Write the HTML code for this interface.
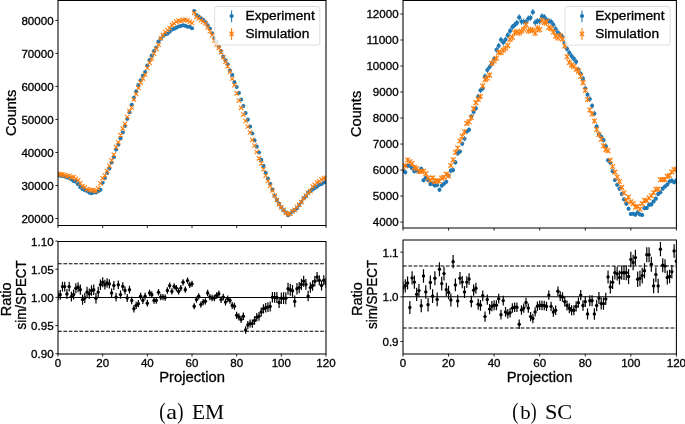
<!DOCTYPE html>
<html><head><meta charset="utf-8"><style>
html,body{margin:0;padding:0;background:#fff;}
body{width:685px;height:424px;overflow:hidden;font-family:"Liberation Sans",sans-serif;}
svg{display:block;will-change:transform;}
</style></head><body>
<svg width="685" height="424" viewBox="0 0 685 424">
<rect width="685" height="424" fill="#fff"/>
<defs>
<clipPath id="cuL"><rect x="58" y="0.5" width="268" height="225"/></clipPath>
<clipPath id="clL"><rect x="58" y="241.4" width="268" height="112.6"/></clipPath>
<clipPath id="cuR"><rect x="403" y="0.5" width="273.4" height="227.5"/></clipPath>
<clipPath id="clR"><rect x="403" y="240" width="273.4" height="114"/></clipPath>
</defs>
<g clip-path="url(#cuL)">
<g fill="#1f77b4">
<circle cx="58" cy="175.1" r="2.05"/>
<circle cx="60.23" cy="175.6" r="2.05"/>
<circle cx="62.47" cy="175.9" r="2.05"/>
<circle cx="64.7" cy="176.39" r="2.05"/>
<circle cx="66.93" cy="177.34" r="2.05"/>
<circle cx="69.17" cy="178.05" r="2.05"/>
<circle cx="71.4" cy="179.52" r="2.05"/>
<circle cx="73.63" cy="181.07" r="2.05"/>
<circle cx="75.87" cy="181.63" r="2.05"/>
<circle cx="78.1" cy="184.28" r="2.05"/>
<circle cx="80.33" cy="187.17" r="2.05"/>
<circle cx="82.57" cy="188.92" r="2.05"/>
<circle cx="84.8" cy="190.24" r="2.05"/>
<circle cx="87.03" cy="190.97" r="2.05"/>
<circle cx="89.27" cy="192.59" r="2.05"/>
<circle cx="91.5" cy="193.24" r="2.05"/>
<circle cx="93.73" cy="192.33" r="2.05"/>
<circle cx="95.97" cy="192.44" r="2.05"/>
<circle cx="98.2" cy="191.23" r="2.05"/>
<circle cx="100.43" cy="189.85" r="2.05"/>
<circle cx="102.67" cy="182.76" r="2.05"/>
<circle cx="104.9" cy="177.92" r="2.05"/>
<circle cx="107.13" cy="173.06" r="2.05"/>
<circle cx="109.37" cy="168.59" r="2.05"/>
<circle cx="111.6" cy="162.55" r="2.05"/>
<circle cx="113.83" cy="157.13" r="2.05"/>
<circle cx="116.07" cy="149.62" r="2.05"/>
<circle cx="118.3" cy="144.81" r="2.05"/>
<circle cx="120.53" cy="138.48" r="2.05"/>
<circle cx="122.77" cy="132.54" r="2.05"/>
<circle cx="125" cy="125.96" r="2.05"/>
<circle cx="127.23" cy="118.83" r="2.05"/>
<circle cx="129.47" cy="112.16" r="2.05"/>
<circle cx="131.7" cy="104.72" r="2.05"/>
<circle cx="133.93" cy="97.87" r="2.05"/>
<circle cx="136.17" cy="91.42" r="2.05"/>
<circle cx="138.4" cy="84.99" r="2.05"/>
<circle cx="140.63" cy="80.31" r="2.05"/>
<circle cx="142.87" cy="75.8" r="2.05"/>
<circle cx="145.1" cy="71.96" r="2.05"/>
<circle cx="147.33" cy="65.54" r="2.05"/>
<circle cx="149.57" cy="60.02" r="2.05"/>
<circle cx="151.8" cy="55.57" r="2.05"/>
<circle cx="154.03" cy="51.03" r="2.05"/>
<circle cx="156.27" cy="47.48" r="2.05"/>
<circle cx="158.5" cy="41.46" r="2.05"/>
<circle cx="160.73" cy="38.8" r="2.05"/>
<circle cx="162.97" cy="36.04" r="2.05"/>
<circle cx="165.2" cy="34.28" r="2.05"/>
<circle cx="167.43" cy="33.7" r="2.05"/>
<circle cx="169.67" cy="31.77" r="2.05"/>
<circle cx="171.9" cy="29.58" r="2.05"/>
<circle cx="174.13" cy="28.63" r="2.05"/>
<circle cx="176.37" cy="27.7" r="2.05"/>
<circle cx="178.6" cy="26.43" r="2.05"/>
<circle cx="180.83" cy="25.94" r="2.05"/>
<circle cx="183.07" cy="25.28" r="2.05"/>
<circle cx="185.3" cy="25.83" r="2.05"/>
<circle cx="187.53" cy="26.8" r="2.05"/>
<circle cx="189.77" cy="26.76" r="2.05"/>
<circle cx="192" cy="28.27" r="2.05"/>
<circle cx="194.23" cy="11.04" r="2.05"/>
<circle cx="196.47" cy="14.94" r="2.05"/>
<circle cx="198.7" cy="16.58" r="2.05"/>
<circle cx="200.93" cy="18.3" r="2.05"/>
<circle cx="203.17" cy="19.73" r="2.05"/>
<circle cx="205.4" cy="22.31" r="2.05"/>
<circle cx="207.63" cy="25.4" r="2.05"/>
<circle cx="209.87" cy="28.54" r="2.05"/>
<circle cx="212.1" cy="33.22" r="2.05"/>
<circle cx="214.33" cy="38.23" r="2.05"/>
<circle cx="216.57" cy="42.3" r="2.05"/>
<circle cx="218.8" cy="46.84" r="2.05"/>
<circle cx="221.03" cy="50.97" r="2.05"/>
<circle cx="223.27" cy="56.44" r="2.05"/>
<circle cx="225.5" cy="60.24" r="2.05"/>
<circle cx="227.73" cy="64.29" r="2.05"/>
<circle cx="229.97" cy="70.67" r="2.05"/>
<circle cx="232.2" cy="74.91" r="2.05"/>
<circle cx="234.43" cy="81.93" r="2.05"/>
<circle cx="236.67" cy="86.95" r="2.05"/>
<circle cx="238.9" cy="92.89" r="2.05"/>
<circle cx="241.13" cy="99.52" r="2.05"/>
<circle cx="243.37" cy="105.96" r="2.05"/>
<circle cx="245.6" cy="112.93" r="2.05"/>
<circle cx="247.83" cy="119.61" r="2.05"/>
<circle cx="250.07" cy="126.6" r="2.05"/>
<circle cx="252.3" cy="133.54" r="2.05"/>
<circle cx="254.53" cy="140.41" r="2.05"/>
<circle cx="256.77" cy="146.63" r="2.05"/>
<circle cx="259" cy="152.49" r="2.05"/>
<circle cx="261.23" cy="159.83" r="2.05"/>
<circle cx="263.47" cy="165.88" r="2.05"/>
<circle cx="265.7" cy="172.77" r="2.05"/>
<circle cx="267.93" cy="178.5" r="2.05"/>
<circle cx="270.17" cy="183.9" r="2.05"/>
<circle cx="272.4" cy="189.55" r="2.05"/>
<circle cx="274.63" cy="195.62" r="2.05"/>
<circle cx="276.87" cy="200.11" r="2.05"/>
<circle cx="279.1" cy="203.69" r="2.05"/>
<circle cx="281.33" cy="207.39" r="2.05"/>
<circle cx="283.57" cy="210.19" r="2.05"/>
<circle cx="285.8" cy="212.56" r="2.05"/>
<circle cx="288.03" cy="215.09" r="2.05"/>
<circle cx="290.27" cy="213.71" r="2.05"/>
<circle cx="292.5" cy="211.48" r="2.05"/>
<circle cx="294.73" cy="210.07" r="2.05"/>
<circle cx="296.97" cy="208.17" r="2.05"/>
<circle cx="299.2" cy="204.94" r="2.05"/>
<circle cx="301.43" cy="201.93" r="2.05"/>
<circle cx="303.67" cy="198.25" r="2.05"/>
<circle cx="305.9" cy="196.18" r="2.05"/>
<circle cx="308.13" cy="192.64" r="2.05"/>
<circle cx="310.37" cy="190.97" r="2.05"/>
<circle cx="312.6" cy="189.51" r="2.05"/>
<circle cx="314.83" cy="187.93" r="2.05"/>
<circle cx="317.07" cy="186.59" r="2.05"/>
<circle cx="319.3" cy="184.7" r="2.05"/>
<circle cx="321.53" cy="184.04" r="2.05"/>
<circle cx="323.77" cy="182.57" r="2.05"/>
<circle cx="326" cy="181.83" r="2.05"/>
</g>
<path d="M55.8 171.79L60.2 176.19M55.8 176.19L60.2 171.79M58.03 172.26L62.43 176.66M58.03 176.66L62.43 172.26M60.27 172.1L64.67 176.5M60.27 176.5L64.67 172.1M62.5 172.9L66.9 177.3M62.5 177.3L66.9 172.9M64.73 173.93L69.13 178.33M64.73 178.33L69.13 173.93M66.97 173.56L71.37 177.96M66.97 177.96L71.37 173.56M69.2 175.1L73.6 179.5M69.2 179.5L73.6 175.1M71.43 174.99L75.83 179.39M71.43 179.39L75.83 174.99M73.67 176.56L78.07 180.96M73.67 180.96L78.07 176.56M75.9 178.1L80.3 182.5M75.9 182.5L80.3 178.1M78.13 180.87L82.53 185.27M78.13 185.27L82.53 180.87M80.37 183.85L84.77 188.25M80.37 188.25L84.77 183.85M82.6 185.06L87 189.46M82.6 189.46L87 185.06M84.83 186.84L89.23 191.24M84.83 191.24L89.23 186.84M87.07 187.8L91.47 192.2M87.07 192.2L91.47 187.8M89.3 187.98L93.7 192.38M89.3 192.38L93.7 187.98M91.53 188.2L95.93 192.6M91.53 192.6L95.93 188.2M93.77 188.74L98.17 193.14M93.77 193.14L98.17 188.74M96 186.16L100.4 190.56M96 190.56L100.4 186.16M98.23 181.18L102.63 185.58M98.23 185.58L102.63 181.18M100.47 176.11L104.87 180.51M100.47 180.51L104.87 176.11M102.7 173.27L107.1 177.67M102.7 177.67L107.1 173.27M104.93 168.83L109.33 173.23M104.93 173.23L109.33 168.83M107.17 163.68L111.57 168.08M107.17 168.08L111.57 163.68M109.4 158.26L113.8 162.66M109.4 162.66L113.8 158.26M111.63 152.49L116.03 156.89M111.63 156.89L116.03 152.49M113.87 144.92L118.27 149.32M113.87 149.32L118.27 144.92M116.1 140.02L120.5 144.42M116.1 144.42L120.5 140.02M118.33 133.01L122.73 137.41M118.33 137.41L122.73 133.01M120.57 126.5L124.97 130.9M120.57 130.9L124.97 126.5M122.8 121.59L127.2 125.99M122.8 125.99L127.2 121.59M125.03 114.83L129.43 119.23M125.03 119.23L129.43 114.83M127.27 108.8L131.67 113.2M127.27 113.2L131.67 108.8M129.5 105.32L133.9 109.72M129.5 109.72L133.9 105.32M131.73 97.33L136.13 101.73M131.73 101.73L136.13 97.33M133.97 91.62L138.37 96.02M133.97 96.02L138.37 91.62M136.2 85.75L140.6 90.15M136.2 90.15L140.6 85.75M138.43 80.36L142.83 84.76M138.43 84.76L142.83 80.36M140.67 76.32L145.07 80.72M140.67 80.72L145.07 76.32M142.9 72.28L147.3 76.68M142.9 76.68L147.3 72.28M145.13 65.82L149.53 70.22M145.13 70.22L149.53 65.82M147.37 60.62L151.77 65.02M147.37 65.02L151.77 60.62M149.6 56.52L154 60.92M149.6 60.92L154 56.52M151.83 51.39L156.23 55.79M151.83 55.79L156.23 51.39M154.07 46.88L158.47 51.28M154.07 51.28L158.47 46.88M156.3 42.5L160.7 46.9M156.3 46.9L160.7 42.5M158.53 36.06L162.93 40.46M158.53 40.46L162.93 36.06M160.77 32.79L165.17 37.19M160.77 37.19L165.17 32.79M163 29.83L167.4 34.23M163 34.23L167.4 29.83M165.23 27.84L169.63 32.24M165.23 32.24L169.63 27.84M167.47 25.96L171.87 30.36M167.47 30.36L171.87 25.96M169.7 22.61L174.1 27.01M169.7 27.01L174.1 22.61M171.93 21.25L176.33 25.65M171.93 25.65L176.33 21.25M174.17 19.41L178.57 23.81M174.17 23.81L178.57 19.41M176.4 18.37L180.8 22.77M176.4 22.77L180.8 18.37M178.63 18.77L183.03 23.17M178.63 23.17L183.03 18.77M180.87 17.62L185.27 22.02M180.87 22.02L185.27 17.62M183.1 17.7L187.5 22.1M183.1 22.1L187.5 17.7M185.33 18.29L189.73 22.69M185.33 22.69L189.73 18.29M187.57 19.65L191.97 24.05M187.57 24.05L191.97 19.65M189.8 20.62L194.2 25.02M189.8 25.02L194.2 20.62M192.03 10.59L196.43 14.99M192.03 14.99L196.43 10.59M194.27 14.83L198.67 19.23M194.27 19.23L198.67 14.83M196.5 16.22L200.9 20.62M196.5 20.62L200.9 16.22M198.73 18.06L203.13 22.46M198.73 22.46L203.13 18.06M200.97 19.4L205.37 23.8M200.97 23.8L205.37 19.4M203.2 21.2L207.6 25.6M203.2 25.6L207.6 21.2M205.43 25.12L209.83 29.52M205.43 29.52L209.83 25.12M207.67 29.04L212.07 33.44M207.67 33.44L212.07 29.04M209.9 32.96L214.3 37.36M209.9 37.36L214.3 32.96M212.13 38.13L216.53 42.53M212.13 42.53L216.53 38.13M214.37 42.14L218.77 46.54M214.37 46.54L218.77 42.14M216.6 45.75L221 50.15M216.6 50.15L221 45.75M218.83 49.99L223.23 54.39M218.83 54.39L223.23 49.99M221.07 55.07L225.47 59.47M221.07 59.47L225.47 55.07M223.3 59.59L227.7 63.99M223.3 63.99L227.7 59.59M225.53 64.12L229.93 68.52M225.53 68.52L229.93 64.12M227.77 69.64L232.17 74.04M227.77 74.04L232.17 69.64M230 76.53L234.4 80.93M230 80.93L234.4 76.53M232.23 82.96L236.63 87.36M232.23 87.36L236.63 82.96M234.47 91.2L238.87 95.6M234.47 95.6L238.87 91.2M236.7 98.47L241.1 102.87M236.7 102.87L241.1 98.47M238.93 105.61L243.33 110.01M238.93 110.01L243.33 105.61M241.17 112.36L245.57 116.76M241.17 116.76L245.57 112.36M243.4 118.82L247.8 123.22M243.4 123.22L247.8 118.82M245.63 124.4L250.03 128.8M245.63 128.8L250.03 124.4M247.87 130.21L252.27 134.61M247.87 134.61L252.27 130.21M250.1 137.59L254.5 141.99M250.1 141.99L254.5 137.59M252.33 143.44L256.73 147.84M252.33 147.84L256.73 143.44M254.57 149.8L258.97 154.2M254.57 154.2L258.97 149.8M256.8 156.09L261.2 160.49M256.8 160.49L261.2 156.09M259.03 161.22L263.43 165.62M259.03 165.62L263.43 161.22M261.27 167.06L265.67 171.46M261.27 171.46L265.67 167.06M263.5 173.39L267.9 177.79M263.5 177.79L267.9 173.39M265.73 178.82L270.13 183.22M265.73 183.22L270.13 178.82M267.97 183.71L272.37 188.11M267.97 188.11L272.37 183.71M270.2 188.31L274.6 192.71M270.2 192.71L274.6 188.31M272.43 193.5L276.83 197.9M272.43 197.9L276.83 193.5M274.67 197.77L279.07 202.17M274.67 202.17L279.07 197.77M276.9 202.24L281.3 206.64M276.9 206.64L281.3 202.24M279.13 205.26L283.53 209.66M279.13 209.66L283.53 205.26M281.37 207.72L285.77 212.12M281.37 212.12L285.77 207.72M283.6 210.78L288 215.18M283.6 215.18L288 210.78M285.83 211.98L290.23 216.38M285.83 216.38L290.23 211.98M288.07 211.44L292.47 215.84M288.07 215.84L292.47 211.44M290.3 209.15L294.7 213.55M290.3 213.55L294.7 209.15M292.53 207.57L296.93 211.97M292.53 211.97L296.93 207.57M294.77 204.95L299.17 209.35M294.77 209.35L299.17 204.95M297 202.49L301.4 206.89M297 206.89L301.4 202.49M299.23 199.87L303.63 204.27M299.23 204.27L303.63 199.87M301.47 196.03L305.87 200.43M301.47 200.43L305.87 196.03M303.7 193.42L308.1 197.82M303.7 197.82L308.1 193.42M305.93 190.72L310.33 195.12M305.93 195.12L310.33 190.72M308.17 189.01L312.57 193.41M308.17 193.41L312.57 189.01M310.4 184.31L314.8 188.71M310.4 188.71L314.8 184.31M312.63 182.61L317.03 187.01M312.63 187.01L317.03 182.61M314.87 180.27L319.27 184.67M314.87 184.67L319.27 180.27M317.1 179.1L321.5 183.5M317.1 183.5L321.5 179.1M319.33 177.29L323.73 181.69M319.33 181.69L323.73 177.29M321.57 176.14L325.97 180.54M321.57 180.54L325.97 176.14M323.8 175.56L328.2 179.96M323.8 179.96L328.2 175.56" stroke="#ff7f0e" stroke-width="1.1" fill="none"/>
</g>
<g clip-path="url(#cuR)">
<path d="M403 168.64V173.06M405.28 170.02V174.42M407.56 163.53V168.02M409.83 163.53V168.02M412.11 166V170.46M414.39 168.98V173.4M416.67 168.05V172.48M418.95 169.3V173.71M421.23 166.58V171.03M423.5 178.06V182.35M425.78 175.71V180.03M428.06 177.8V182.09M430.34 181.97V186.2M432.62 181.47V185.71M434.9 183.47V187.67M437.18 182.94V187.16M439.45 187.75V191.9M441.73 183.56V187.76M444.01 181.69V185.92M446.29 179.6V183.87M448.57 173.65V178M450.85 168.42V172.85M453.12 167.91V172.34M455.4 160.11V164.65M457.68 151.23V155.89M459.96 149.12V153.81M462.24 141.42V146.21M464.51 136.31V141.16M466.79 128.99V133.94M469.07 127.32V132.29M471.35 113.99V119.13M473.63 109.46V114.65M475.91 105.66V110.89M478.19 93.83V99.21M480.46 87.56V93M482.74 85.69V91.16M485.02 73.46V79.07M487.3 67.23V72.91M489.58 64.09V69.81M491.86 60.78V66.53M494.13 56.12V61.92M496.41 46.8V52.7M498.69 42.87V48.81M500.97 36.76V42.76M503.25 39.59V45.56M505.52 36.55V42.56M507.8 32.11V38.16M510.08 27.83V33.93M512.36 23.99V30.12M514.64 21.86V28.02M516.92 19.82V26M519.19 14.28V20.51M521.47 18.51V24.7M523.75 18.61V24.8M526.03 18.82V25.01M528.31 15.45V21.68M530.59 14.66V20.89M532.87 9.01V15.29M535.14 19.36V25.54M537.42 17.93V24.13M539.7 18.39V24.58M541.98 13.29V19.53M544.26 13.88V20.12M546.53 16.84V23.04M548.81 18.08V24.27M551.09 18.69V24.88M553.37 21.68V27.84M555.65 25.89V32.01M557.93 29.44V35.52M560.2 31.92V37.97M562.48 34V40.03M564.76 39.76V45.73M567.04 45.92V51.83M569.32 49.92V55.79M571.6 53.15V58.98M573.88 55.91V61.71M576.15 58.96V64.73M578.43 66.98V72.66M580.71 70.91V76.54M582.99 75.85V81.43M585.27 85.69V91.16M587.54 91.97V97.37M589.82 96.28V101.63M592.1 103.19V108.46M594.38 110.92V116.09M596.66 124.05V129.06M598.94 131.8V136.72M601.22 134.31V139.19M603.49 137.74V142.58M605.77 143.87V148.62M608.05 157.94V162.51M610.33 160.49V165.03M612.61 168.94V173.36M614.88 177.8V182.09M617.16 182.67V186.89M619.44 186.66V190.81M621.72 192.08V196.16M624 197.19V201.19M626.28 201.79V205.72M628.55 206.75V210.6M630.83 212.05V215.81M633.11 211.83V215.59M635.39 212.77V216.52M637.67 210.52V214.3M639.95 212.51V216.26M642.22 213.14V216.88M644.5 206.21V210.06M646.78 205.95V209.81M649.06 202.88V206.79M651.34 202.47V206.38M653.62 199.49V203.45M655.89 196.64V200.65M658.17 192.04V196.12M660.45 190.21V194.32M662.73 186.57V190.73M665.01 184.34V188.54M667.29 182.45V186.67M669.56 179.44V183.7M671.84 178.47V182.75M674.12 180.15V184.4M676.4 178.15V182.43" stroke="#1f77b4" stroke-width="1" fill="none"/>
<g fill="#1f77b4">
<circle cx="403" cy="170.85" r="2.05"/>
<circle cx="405.28" cy="172.22" r="2.05"/>
<circle cx="407.56" cy="165.78" r="2.05"/>
<circle cx="409.83" cy="165.78" r="2.05"/>
<circle cx="412.11" cy="168.23" r="2.05"/>
<circle cx="414.39" cy="171.19" r="2.05"/>
<circle cx="416.67" cy="170.27" r="2.05"/>
<circle cx="418.95" cy="171.5" r="2.05"/>
<circle cx="421.23" cy="168.8" r="2.05"/>
<circle cx="423.5" cy="180.21" r="2.05"/>
<circle cx="425.78" cy="177.87" r="2.05"/>
<circle cx="428.06" cy="179.94" r="2.05"/>
<circle cx="430.34" cy="184.08" r="2.05"/>
<circle cx="432.62" cy="183.59" r="2.05"/>
<circle cx="434.9" cy="185.57" r="2.05"/>
<circle cx="437.18" cy="185.05" r="2.05"/>
<circle cx="439.45" cy="189.83" r="2.05"/>
<circle cx="441.73" cy="185.66" r="2.05"/>
<circle cx="444.01" cy="183.81" r="2.05"/>
<circle cx="446.29" cy="181.74" r="2.05"/>
<circle cx="448.57" cy="175.82" r="2.05"/>
<circle cx="450.85" cy="170.64" r="2.05"/>
<circle cx="453.12" cy="170.12" r="2.05"/>
<circle cx="455.4" cy="162.38" r="2.05"/>
<circle cx="457.68" cy="153.56" r="2.05"/>
<circle cx="459.96" cy="151.46" r="2.05"/>
<circle cx="462.24" cy="143.81" r="2.05"/>
<circle cx="464.51" cy="138.74" r="2.05"/>
<circle cx="466.79" cy="131.46" r="2.05"/>
<circle cx="469.07" cy="129.8" r="2.05"/>
<circle cx="471.35" cy="116.56" r="2.05"/>
<circle cx="473.63" cy="112.06" r="2.05"/>
<circle cx="475.91" cy="108.27" r="2.05"/>
<circle cx="478.19" cy="96.52" r="2.05"/>
<circle cx="480.46" cy="90.28" r="2.05"/>
<circle cx="482.74" cy="88.43" r="2.05"/>
<circle cx="485.02" cy="76.26" r="2.05"/>
<circle cx="487.3" cy="70.07" r="2.05"/>
<circle cx="489.58" cy="66.95" r="2.05"/>
<circle cx="491.86" cy="63.66" r="2.05"/>
<circle cx="494.13" cy="59.02" r="2.05"/>
<circle cx="496.41" cy="49.75" r="2.05"/>
<circle cx="498.69" cy="45.84" r="2.05"/>
<circle cx="500.97" cy="39.76" r="2.05"/>
<circle cx="503.25" cy="42.57" r="2.05"/>
<circle cx="505.52" cy="39.55" r="2.05"/>
<circle cx="507.8" cy="35.13" r="2.05"/>
<circle cx="510.08" cy="30.88" r="2.05"/>
<circle cx="512.36" cy="27.06" r="2.05"/>
<circle cx="514.64" cy="24.94" r="2.05"/>
<circle cx="516.92" cy="22.91" r="2.05"/>
<circle cx="519.19" cy="17.4" r="2.05"/>
<circle cx="521.47" cy="21.61" r="2.05"/>
<circle cx="523.75" cy="21.71" r="2.05"/>
<circle cx="526.03" cy="21.92" r="2.05"/>
<circle cx="528.31" cy="18.57" r="2.05"/>
<circle cx="530.59" cy="17.78" r="2.05"/>
<circle cx="532.87" cy="12.15" r="2.05"/>
<circle cx="535.14" cy="22.45" r="2.05"/>
<circle cx="537.42" cy="21.03" r="2.05"/>
<circle cx="539.7" cy="21.48" r="2.05"/>
<circle cx="541.98" cy="16.41" r="2.05"/>
<circle cx="544.26" cy="17" r="2.05"/>
<circle cx="546.53" cy="19.94" r="2.05"/>
<circle cx="548.81" cy="21.18" r="2.05"/>
<circle cx="551.09" cy="21.79" r="2.05"/>
<circle cx="553.37" cy="24.76" r="2.05"/>
<circle cx="555.65" cy="28.95" r="2.05"/>
<circle cx="557.93" cy="32.48" r="2.05"/>
<circle cx="560.2" cy="34.95" r="2.05"/>
<circle cx="562.48" cy="37.01" r="2.05"/>
<circle cx="564.76" cy="42.75" r="2.05"/>
<circle cx="567.04" cy="48.88" r="2.05"/>
<circle cx="569.32" cy="52.86" r="2.05"/>
<circle cx="571.6" cy="56.06" r="2.05"/>
<circle cx="573.88" cy="58.81" r="2.05"/>
<circle cx="576.15" cy="61.85" r="2.05"/>
<circle cx="578.43" cy="69.82" r="2.05"/>
<circle cx="580.71" cy="73.72" r="2.05"/>
<circle cx="582.99" cy="78.64" r="2.05"/>
<circle cx="585.27" cy="88.43" r="2.05"/>
<circle cx="587.54" cy="94.67" r="2.05"/>
<circle cx="589.82" cy="98.96" r="2.05"/>
<circle cx="592.1" cy="105.83" r="2.05"/>
<circle cx="594.38" cy="113.51" r="2.05"/>
<circle cx="596.66" cy="126.55" r="2.05"/>
<circle cx="598.94" cy="134.26" r="2.05"/>
<circle cx="601.22" cy="136.75" r="2.05"/>
<circle cx="603.49" cy="140.16" r="2.05"/>
<circle cx="605.77" cy="146.25" r="2.05"/>
<circle cx="608.05" cy="160.23" r="2.05"/>
<circle cx="610.33" cy="162.76" r="2.05"/>
<circle cx="612.61" cy="171.15" r="2.05"/>
<circle cx="614.88" cy="179.94" r="2.05"/>
<circle cx="617.16" cy="184.78" r="2.05"/>
<circle cx="619.44" cy="188.74" r="2.05"/>
<circle cx="621.72" cy="194.12" r="2.05"/>
<circle cx="624" cy="199.19" r="2.05"/>
<circle cx="626.28" cy="203.75" r="2.05"/>
<circle cx="628.55" cy="208.68" r="2.05"/>
<circle cx="630.83" cy="213.93" r="2.05"/>
<circle cx="633.11" cy="213.71" r="2.05"/>
<circle cx="635.39" cy="214.64" r="2.05"/>
<circle cx="637.67" cy="212.41" r="2.05"/>
<circle cx="639.95" cy="214.39" r="2.05"/>
<circle cx="642.22" cy="215.01" r="2.05"/>
<circle cx="644.5" cy="208.13" r="2.05"/>
<circle cx="646.78" cy="207.88" r="2.05"/>
<circle cx="649.06" cy="204.83" r="2.05"/>
<circle cx="651.34" cy="204.42" r="2.05"/>
<circle cx="653.62" cy="201.47" r="2.05"/>
<circle cx="655.89" cy="198.64" r="2.05"/>
<circle cx="658.17" cy="194.08" r="2.05"/>
<circle cx="660.45" cy="192.27" r="2.05"/>
<circle cx="662.73" cy="188.65" r="2.05"/>
<circle cx="665.01" cy="186.44" r="2.05"/>
<circle cx="667.29" cy="184.56" r="2.05"/>
<circle cx="669.56" cy="181.57" r="2.05"/>
<circle cx="671.84" cy="180.61" r="2.05"/>
<circle cx="674.12" cy="182.27" r="2.05"/>
<circle cx="676.4" cy="180.29" r="2.05"/>
</g>
<path d="M403 164.95V169.63M405.28 163.23V167.93M407.56 157.6V162.38M409.83 159.36V164.12M412.11 161.13V165.86M414.39 164.99V169.67M416.67 166.26V170.91M418.95 168.99V173.61M421.23 169.26V173.87M423.5 168.86V173.47M425.78 171.39V175.97M428.06 175.78V180.29M430.34 177.87V182.35M432.62 175.6V180.12M434.9 179.55V184.01M437.18 178.37V182.85M439.45 178.84V183.31M441.73 175.87V180.38M444.01 174.91V179.44M446.29 171.82V176.4M448.57 173.72V178.26M450.85 163.11V167.81M453.12 157.45V162.24M455.4 149.84V154.73M457.68 145.61V150.55M459.96 138.44V143.49M462.24 133.62V138.73M464.51 129.15V134.32M466.79 120.68V125.96M469.07 119.13V124.43M471.35 114.99V120.35M473.63 105.92V111.39M475.91 99.88V105.42M478.19 96.6V102.19M480.46 93.74V99.36M482.74 83.14V88.88M485.02 76.68V82.5M487.3 75.14V80.99M489.58 72.23V78.11M491.86 60.27V66.29M494.13 57.93V63.97M496.41 55.24V61.31M498.69 49.25V55.39M500.97 49.39V55.52M503.25 47.1V53.27M505.52 45.18V51.37M507.8 42.48V48.7M510.08 36.24V42.52M512.36 34.2V40.5M514.64 29.57V35.92M516.92 28.74V35.11M519.19 29.87V36.23M521.47 28.09V34.46M523.75 26V32.39M526.03 21.61V28.05M528.31 27.78V34.15M530.59 26.56V32.94M532.87 27.17V33.55M535.14 30.01V36.36M537.42 24.86V31.26M539.7 26.46V32.85M541.98 17.26V23.75M544.26 19.43V25.89M546.53 18.77V25.24M548.81 24.36V30.77M551.09 25.41V31.81M553.37 28.73V35.09M555.65 32.98V39.29M557.93 34.87V41.16M560.2 32.56V38.88M562.48 35.86V42.15M564.76 42.88V49.09M567.04 53.71V59.8M569.32 59.41V65.43M571.6 62.12V68.11M573.88 63.52V69.49M576.15 66.27V72.21M578.43 68.36V74.28M580.71 73.24V79.11M582.99 79.74V85.53M585.27 87.42V93.11M587.54 96.69V102.27M589.82 107.32V112.77M592.1 111.3V116.7M594.38 118.31V123.62M596.66 126.86V132.07M598.94 131.96V137.09M601.22 136.72V141.79M603.49 143.31V148.29M605.77 147.19V152.12M608.05 148.33V153.24M610.33 157.9V162.68M612.61 164.19V168.87M614.88 169.82V174.42M617.16 174.84V179.37M619.44 179.31V183.77M621.72 185.19V189.56M624 190.67V194.95M626.28 198.25V202.41M628.55 194.84V199.06M630.83 199.81V203.95M633.11 201.56V205.67M635.39 205.27V209.32M637.67 204.28V208.34M639.95 207.08V211.09M642.22 201.64V205.75M644.5 198.14V202.31M646.78 198.6V202.75M649.06 195.8V200M651.34 193.64V197.88M653.62 190.65V194.93M655.89 187.05V191.39M658.17 187V191.34M660.45 177.42V181.91M662.73 177.36V181.85M665.01 177.35V181.84M667.29 174.15V178.69M669.56 173.25V177.8M671.84 169.55V174.16M674.12 167.3V171.94M676.4 166.73V171.38" stroke="#ff7f0e" stroke-width="1" fill="none"/>
<path d="M400.6 164.89L405.4 169.69M400.6 169.69L405.4 164.89M402.88 163.18L407.68 167.98M402.88 167.98L407.68 163.18M405.16 157.59L409.96 162.39M405.16 162.39L409.96 157.59M407.44 159.34L412.23 164.14M407.44 164.14L412.23 159.34M409.71 161.09L414.51 165.89M409.71 165.89L414.51 161.09M411.99 164.93L416.79 169.73M411.99 169.73L416.79 164.93M414.27 166.19L419.07 170.99M414.27 170.99L419.07 166.19M416.55 168.9L421.35 173.7M416.55 173.7L421.35 168.9M418.83 169.16L423.63 173.96M418.83 173.96L423.63 169.16M421.11 168.77L425.9 173.57M421.11 173.57L425.9 168.77M423.38 171.28L428.18 176.08M423.38 176.08L428.18 171.28M425.66 175.64L430.46 180.44M425.66 180.44L430.46 175.64M427.94 177.71L432.74 182.51M427.94 182.51L432.74 177.71M430.22 175.46L435.02 180.26M430.22 180.26L435.02 175.46M432.5 179.38L437.3 184.18M432.5 184.18L437.3 179.38M434.78 178.21L439.57 183.01M434.78 183.01L439.57 178.21M437.05 178.68L441.85 183.48M437.05 183.48L441.85 178.68M439.33 175.73L444.13 180.53M439.33 180.53L444.13 175.73M441.61 174.77L446.41 179.57M441.61 179.57L446.41 174.77M443.89 171.71L448.69 176.51M443.89 176.51L448.69 171.71M446.17 173.59L450.97 178.39M446.17 178.39L450.97 173.59M448.45 163.06L453.25 167.86M448.45 167.86L453.25 163.06M450.72 157.45L455.52 162.25M450.72 162.25L455.52 157.45M453 149.89L457.8 154.69M453 154.69L457.8 149.89M455.28 145.68L460.08 150.48M455.28 150.48L460.08 145.68M457.56 138.56L462.36 143.36M457.56 143.36L462.36 138.56M459.84 133.78L464.64 138.58M459.84 138.58L464.64 133.78M462.12 129.33L466.91 134.13M462.12 134.13L466.91 129.33M464.39 120.92L469.19 125.72M464.39 125.72L469.19 120.92M466.67 119.38L471.47 124.18M466.67 124.18L471.47 119.38M468.95 115.27L473.75 120.07M468.95 120.07L473.75 115.27M471.23 106.25L476.03 111.05M471.23 111.05L476.03 106.25M473.51 100.25L478.31 105.05M473.51 105.05L478.31 100.25M475.79 97L480.58 101.8M475.79 101.8L480.58 97M478.06 94.15L482.86 98.95M478.06 98.95L482.86 94.15M480.34 83.61L485.14 88.41M480.34 88.41L485.14 83.61M482.62 77.19L487.42 81.99M482.62 81.99L487.42 77.19M484.9 75.66L489.7 80.46M484.9 80.46L489.7 75.66M487.18 72.77L491.98 77.57M487.18 77.57L491.98 72.77M489.46 60.88L494.25 65.68M489.46 65.68L494.25 60.88M491.73 58.55L496.53 63.35M491.73 63.35L496.53 58.55M494.01 55.87L498.81 60.67M494.01 60.67L498.81 55.87M496.29 49.92L501.09 54.72M496.29 54.72L501.09 49.92M498.57 50.05L503.37 54.85M498.57 54.85L503.37 50.05M500.85 47.79L505.65 52.59M500.85 52.59L505.65 47.79M503.12 45.88L507.92 50.68M503.12 50.68L507.92 45.88M505.4 43.19L510.2 47.99M505.4 47.99L510.2 43.19M507.68 36.98L512.48 41.78M507.68 41.78L512.48 36.98M509.96 34.95L514.76 39.75M509.96 39.75L514.76 34.95M512.24 30.34L517.04 35.14M512.24 35.14L517.04 30.34M514.52 29.53L519.32 34.33M514.52 34.33L519.32 29.53M516.79 30.65L521.59 35.45M516.79 35.45L521.59 30.65M519.07 28.87L523.87 33.67M519.07 33.67L523.87 28.87M521.35 26.8L526.15 31.6M521.35 31.6L526.15 26.8M523.63 22.43L528.43 27.23M523.63 27.23L528.43 22.43M525.91 28.56L530.71 33.36M525.91 33.36L530.71 28.56M528.19 27.35L532.99 32.15M528.19 32.15L532.99 27.35M530.47 27.96L535.26 32.76M530.47 32.76L535.26 27.96M532.74 30.79L537.54 35.59M532.74 35.59L537.54 30.79M535.02 25.66L539.82 30.46M535.02 30.46L539.82 25.66M537.3 27.25L542.1 32.05M537.3 32.05L542.1 27.25M539.58 18.1L544.38 22.9M539.58 22.9L544.38 18.1M541.86 20.26L546.66 25.06M541.86 25.06L546.66 20.26M544.13 19.61L548.93 24.41M544.13 24.41L548.93 19.61M546.41 25.17L551.21 29.97M546.41 29.97L551.21 25.17M548.69 26.21L553.49 31.01M548.69 31.01L553.49 26.21M550.97 29.51L555.77 34.31M550.97 34.31L555.77 29.51M553.25 33.73L558.05 38.53M553.25 38.53L558.05 33.73M555.53 35.62L560.33 40.42M555.53 40.42L560.33 35.62M557.8 33.32L562.6 38.12M557.8 38.12L562.6 33.32M560.08 36.6L564.88 41.4M560.08 41.4L564.88 36.6M562.36 43.58L567.16 48.38M562.36 48.38L567.16 43.58M564.64 54.36L569.44 59.16M564.64 59.16L569.44 54.36M566.92 60.02L571.72 64.82M566.92 64.82L571.72 60.02M569.2 62.71L574 67.51M569.2 67.51L574 62.71M571.48 64.11L576.27 68.91M571.48 68.91L576.27 64.11M573.75 66.84L578.55 71.64M573.75 71.64L578.55 66.84M576.03 68.92L580.83 73.72M576.03 73.72L580.83 68.92M578.31 73.78L583.11 78.58M578.31 78.58L583.11 73.78M580.59 80.23L585.39 85.03M580.59 85.03L585.39 80.23M582.87 87.87L587.67 92.67M582.87 92.67L587.67 87.87M585.14 97.08L589.94 101.88M585.14 101.88L589.94 97.08M587.42 107.65L592.22 112.45M587.42 112.45L592.22 107.65M589.7 111.6L594.5 116.4M589.7 116.4L594.5 111.6M591.98 118.57L596.78 123.37M591.98 123.37L596.78 118.57M594.26 127.07L599.06 131.87M594.26 131.87L599.06 127.07M596.54 132.13L601.34 136.93M596.54 136.93L601.34 132.13M598.82 136.85L603.62 141.65M598.82 141.65L603.62 136.85M601.09 143.4L605.89 148.2M601.09 148.2L605.89 143.4M603.37 147.26L608.17 152.06M603.37 152.06L608.17 147.26M605.65 148.39L610.45 153.19M605.65 153.19L610.45 148.39M607.93 157.89L612.73 162.69M607.93 162.69L612.73 157.89M610.21 164.13L615.01 168.93M610.21 168.93L615.01 164.13M612.49 169.72L617.28 174.52M612.49 174.52L617.28 169.72M614.76 174.7L619.56 179.5M614.76 179.5L619.56 174.7M617.04 179.14L621.84 183.94M617.04 183.94L621.84 179.14M619.32 184.97L624.12 189.77M619.32 189.77L624.12 184.97M621.6 190.41L626.4 195.21M621.6 195.21L626.4 190.41M623.88 197.93L628.68 202.73M623.88 202.73L628.68 197.93M626.15 194.55L630.95 199.35M626.15 199.35L630.95 194.55M628.43 199.48L633.23 204.28M628.43 204.28L633.23 199.48M630.71 201.22L635.51 206.02M630.71 206.02L635.51 201.22M632.99 204.89L637.79 209.69M632.99 209.69L637.79 204.89M635.27 203.91L640.07 208.71M635.27 208.71L640.07 203.91M637.55 206.69L642.35 211.49M637.55 211.49L642.35 206.69M639.82 201.29L644.62 206.09M639.82 206.09L644.62 201.29M642.1 197.83L646.9 202.63M642.1 202.63L646.9 197.83M644.38 198.27L649.18 203.07M644.38 203.07L649.18 198.27M646.66 195.5L651.46 200.3M646.66 200.3L651.46 195.5M648.94 193.36L653.74 198.16M648.94 198.16L653.74 193.36M651.22 190.39L656.02 195.19M651.22 195.19L656.02 190.39M653.5 186.82L658.29 191.62M653.5 191.62L658.29 186.82M655.77 186.77L660.57 191.57M655.77 191.57L660.57 186.77M658.05 177.27L662.85 182.07M658.05 182.07L662.85 177.27M660.33 177.21L665.13 182.01M660.33 182.01L665.13 177.21M662.61 177.2L667.41 182M662.61 182L667.41 177.2M664.89 174.02L669.69 178.82M664.89 178.82L669.69 174.02M667.16 173.13L671.96 177.93M667.16 177.93L671.96 173.13M669.44 169.46L674.24 174.26M669.44 174.26L674.24 169.46M671.72 167.22L676.52 172.02M671.72 172.02L676.52 167.22M674 166.65L678.8 171.45M674 171.45L678.8 166.65" stroke="#ff7f0e" stroke-width="1.2" fill="none"/>
</g>
<g clip-path="url(#clL)">
<line x1="58" y1="297.4" x2="326" y2="297.4" stroke="#000" stroke-width="1.05"/>
<line x1="58" y1="263.7" x2="326" y2="263.7" stroke="#000" stroke-width="1.05" stroke-dasharray="3.75 1.6"/>
<line x1="58" y1="331.2" x2="326" y2="331.2" stroke="#000" stroke-width="1.05" stroke-dasharray="3.75 1.6"/>
<path d="M58 290.67V300.33M60.23 289.96V299.64M62.47 281.75V291.45M64.7 281.74V291.46M66.93 289.12V298.88M69.17 281.7V291.5M71.4 291.67V301.53M73.63 289.53V299.47M75.87 283.32V293.28M78.1 282.15V292.25M80.33 284.58V294.82M82.57 294.43V304.77M84.8 292.69V303.11M87.03 286.87V297.33M89.27 288.53V299.07M91.5 285.21V295.79M93.73 284.43V294.97M95.97 292.93V303.47M98.2 286.87V297.33M100.43 279.5V289.9M102.67 277.19V287.21M104.9 279.8V289.6M107.13 278.21V287.79M109.37 279.2V288.6M111.6 288.42V297.58M113.83 281.02V289.98M116.07 292.75V301.45M118.3 280.42V288.98M120.53 290.42V298.78M122.77 282.3V290.5M125 286.48V294.52M127.23 294.07V301.93M129.47 285.85V293.55M131.7 296.63V304.17M133.93 305V312.4M136.17 301.76V309.04M138.4 300.12V307.28M140.63 292.76V299.84M142.87 296.9V303.9M145.1 292.83V299.77M147.33 299.78V306.62M149.57 289.63V296.37M151.8 291.36V298.04M154.03 297.09V303.71M156.27 297.12V303.68M158.5 288.96V295.44M160.73 293.87V300.33M162.97 293.89V300.31M165.2 294.4V300.8M167.43 287.31V293.69M169.67 282.42V288.78M171.9 288.23V294.57M174.13 283.24V289.56M176.37 284.94V291.26M178.6 288.25V294.55M180.83 284.96V291.24M183.07 279.16V285.44M185.3 286.56V292.84M187.53 277.45V283.75M189.77 281.65V287.95M192 280.74V287.06M194.23 303.14V309.26M196.47 296.52V302.68M198.7 293.21V299.39M200.93 301.5V307.7M203.17 298.99V305.21M205.4 298.18V304.42M207.63 289.86V296.14M209.87 293.94V300.26M212.1 294.81V301.19M214.33 294.78V301.22M216.57 292.25V298.75M218.8 290.52V297.08M221.03 296.29V302.91M223.27 293.75V300.45M225.5 298.72V305.48M227.73 295.39V302.21M229.97 296.94V303.86M232.2 301.91V308.89M234.43 302.65V309.75M236.67 311.7V318.9M238.9 313.25V320.55M241.13 315.68V323.12M243.37 312.42V319.98M245.6 326.14V333.86M247.83 321.06V328.94M250.07 319.58V327.62M252.3 319.48V327.72M254.53 316.29V324.71M256.77 312.99V321.61M259 311.9V320.7M261.23 307.47V316.53M263.47 304.16V313.44M265.7 303.02V312.58M267.93 302.21V312.04M270.17 301.41V311.49M272.4 292.01V302.39M274.63 292.01V302.74M276.87 292.05V303.05M279.1 296.88V308.12M281.33 292.44V303.96M283.57 292.34V304.06M285.8 292.24V304.16M288.03 282.63V294.77M290.27 283.74V295.76M292.5 284.88V296.72M294.73 295.54V307.26M296.97 282.91V294.49M299.2 281.93V293.27M301.43 278.84V289.96M303.67 275.76V286.64M305.9 279.02V289.78M308.13 290.83V301.37M310.37 282.37V292.83M312.6 280.31V290.69M314.83 276.11V286.39M317.07 271.89V282.11M319.3 275.14V285.26M321.53 280.46V290.54M323.77 275.19V285.21M326 278.01V287.99" stroke="#000" stroke-width="1.2" fill="none"/>
<g fill="#000">
<circle cx="58" cy="295.5" r="1.7"/>
<circle cx="60.23" cy="294.8" r="1.7"/>
<circle cx="62.47" cy="286.6" r="1.7"/>
<circle cx="64.7" cy="286.6" r="1.7"/>
<circle cx="66.93" cy="294" r="1.7"/>
<circle cx="69.17" cy="286.6" r="1.7"/>
<circle cx="71.4" cy="296.6" r="1.7"/>
<circle cx="73.63" cy="294.5" r="1.7"/>
<circle cx="75.87" cy="288.3" r="1.7"/>
<circle cx="78.1" cy="287.2" r="1.7"/>
<circle cx="80.33" cy="289.7" r="1.7"/>
<circle cx="82.57" cy="299.6" r="1.7"/>
<circle cx="84.8" cy="297.9" r="1.7"/>
<circle cx="87.03" cy="292.1" r="1.7"/>
<circle cx="89.27" cy="293.8" r="1.7"/>
<circle cx="91.5" cy="290.5" r="1.7"/>
<circle cx="93.73" cy="289.7" r="1.7"/>
<circle cx="95.97" cy="298.2" r="1.7"/>
<circle cx="98.2" cy="292.1" r="1.7"/>
<circle cx="100.43" cy="284.7" r="1.7"/>
<circle cx="102.67" cy="282.2" r="1.7"/>
<circle cx="104.9" cy="284.7" r="1.7"/>
<circle cx="107.13" cy="283" r="1.7"/>
<circle cx="109.37" cy="283.9" r="1.7"/>
<circle cx="111.6" cy="293" r="1.7"/>
<circle cx="113.83" cy="285.5" r="1.7"/>
<circle cx="116.07" cy="297.1" r="1.7"/>
<circle cx="118.3" cy="284.7" r="1.7"/>
<circle cx="120.53" cy="294.6" r="1.7"/>
<circle cx="122.77" cy="286.4" r="1.7"/>
<circle cx="125" cy="290.5" r="1.7"/>
<circle cx="127.23" cy="298" r="1.7"/>
<circle cx="129.47" cy="289.7" r="1.7"/>
<circle cx="131.7" cy="300.4" r="1.7"/>
<circle cx="133.93" cy="308.7" r="1.7"/>
<circle cx="136.17" cy="305.4" r="1.7"/>
<circle cx="138.4" cy="303.7" r="1.7"/>
<circle cx="140.63" cy="296.3" r="1.7"/>
<circle cx="142.87" cy="300.4" r="1.7"/>
<circle cx="145.1" cy="296.3" r="1.7"/>
<circle cx="147.33" cy="303.2" r="1.7"/>
<circle cx="149.57" cy="293" r="1.7"/>
<circle cx="151.8" cy="294.7" r="1.7"/>
<circle cx="154.03" cy="300.4" r="1.7"/>
<circle cx="156.27" cy="300.4" r="1.7"/>
<circle cx="158.5" cy="292.2" r="1.7"/>
<circle cx="160.73" cy="297.1" r="1.7"/>
<circle cx="162.97" cy="297.1" r="1.7"/>
<circle cx="165.2" cy="297.6" r="1.7"/>
<circle cx="167.43" cy="290.5" r="1.7"/>
<circle cx="169.67" cy="285.6" r="1.7"/>
<circle cx="171.9" cy="291.4" r="1.7"/>
<circle cx="174.13" cy="286.4" r="1.7"/>
<circle cx="176.37" cy="288.1" r="1.7"/>
<circle cx="178.6" cy="291.4" r="1.7"/>
<circle cx="180.83" cy="288.1" r="1.7"/>
<circle cx="183.07" cy="282.3" r="1.7"/>
<circle cx="185.3" cy="289.7" r="1.7"/>
<circle cx="187.53" cy="280.6" r="1.7"/>
<circle cx="189.77" cy="284.8" r="1.7"/>
<circle cx="192" cy="283.9" r="1.7"/>
<circle cx="194.23" cy="306.2" r="1.7"/>
<circle cx="196.47" cy="299.6" r="1.7"/>
<circle cx="198.7" cy="296.3" r="1.7"/>
<circle cx="200.93" cy="304.6" r="1.7"/>
<circle cx="203.17" cy="302.1" r="1.7"/>
<circle cx="205.4" cy="301.3" r="1.7"/>
<circle cx="207.63" cy="293" r="1.7"/>
<circle cx="209.87" cy="297.1" r="1.7"/>
<circle cx="212.1" cy="298" r="1.7"/>
<circle cx="214.33" cy="298" r="1.7"/>
<circle cx="216.57" cy="295.5" r="1.7"/>
<circle cx="218.8" cy="293.8" r="1.7"/>
<circle cx="221.03" cy="299.6" r="1.7"/>
<circle cx="223.27" cy="297.1" r="1.7"/>
<circle cx="225.5" cy="302.1" r="1.7"/>
<circle cx="227.73" cy="298.8" r="1.7"/>
<circle cx="229.97" cy="300.4" r="1.7"/>
<circle cx="232.2" cy="305.4" r="1.7"/>
<circle cx="234.43" cy="306.2" r="1.7"/>
<circle cx="236.67" cy="315.3" r="1.7"/>
<circle cx="238.9" cy="316.9" r="1.7"/>
<circle cx="241.13" cy="319.4" r="1.7"/>
<circle cx="243.37" cy="316.2" r="1.7"/>
<circle cx="245.6" cy="330" r="1.7"/>
<circle cx="247.83" cy="325" r="1.7"/>
<circle cx="250.07" cy="323.6" r="1.7"/>
<circle cx="252.3" cy="323.6" r="1.7"/>
<circle cx="254.53" cy="320.5" r="1.7"/>
<circle cx="256.77" cy="317.3" r="1.7"/>
<circle cx="259" cy="316.3" r="1.7"/>
<circle cx="261.23" cy="312" r="1.7"/>
<circle cx="263.47" cy="308.8" r="1.7"/>
<circle cx="265.7" cy="307.8" r="1.7"/>
<circle cx="267.93" cy="307.12" r="1.7"/>
<circle cx="270.17" cy="306.45" r="1.7"/>
<circle cx="272.4" cy="297.2" r="1.7"/>
<circle cx="274.63" cy="297.38" r="1.7"/>
<circle cx="276.87" cy="297.55" r="1.7"/>
<circle cx="279.1" cy="302.5" r="1.7"/>
<circle cx="281.33" cy="298.2" r="1.7"/>
<circle cx="283.57" cy="298.2" r="1.7"/>
<circle cx="285.8" cy="298.2" r="1.7"/>
<circle cx="288.03" cy="288.7" r="1.7"/>
<circle cx="290.27" cy="289.75" r="1.7"/>
<circle cx="292.5" cy="290.8" r="1.7"/>
<circle cx="294.73" cy="301.4" r="1.7"/>
<circle cx="296.97" cy="288.7" r="1.7"/>
<circle cx="299.2" cy="287.6" r="1.7"/>
<circle cx="301.43" cy="284.4" r="1.7"/>
<circle cx="303.67" cy="281.2" r="1.7"/>
<circle cx="305.9" cy="284.4" r="1.7"/>
<circle cx="308.13" cy="296.1" r="1.7"/>
<circle cx="310.37" cy="287.6" r="1.7"/>
<circle cx="312.6" cy="285.5" r="1.7"/>
<circle cx="314.83" cy="281.25" r="1.7"/>
<circle cx="317.07" cy="277" r="1.7"/>
<circle cx="319.3" cy="280.2" r="1.7"/>
<circle cx="321.53" cy="285.5" r="1.7"/>
<circle cx="323.77" cy="280.2" r="1.7"/>
<circle cx="326" cy="283" r="1.7"/>
</g>
</g>
<g clip-path="url(#clR)">
<line x1="403" y1="296.8" x2="676.4" y2="296.8" stroke="#000" stroke-width="1.05"/>
<line x1="403" y1="265.9" x2="676.4" y2="265.9" stroke="#000" stroke-width="1.05" stroke-dasharray="3.75 1.6"/>
<line x1="403" y1="328" x2="676.4" y2="328" stroke="#000" stroke-width="1.05" stroke-dasharray="3.75 1.6"/>
<path d="M403 281.4V294.6M405.28 279.17V292.43M407.56 276.5V289.5M409.83 301V314M412.11 271.35V284.45M414.39 275.49V288.71M416.67 287.71V300.89M418.95 283.99V297.21M421.23 299.14V312.26M423.5 269.19V282.81M425.78 285.14V298.66M428.06 297.9V311.5M430.34 275.6V289.4M432.62 289.31V303.09M434.9 271.36V285.24M437.18 292.47V306.33M439.45 262.15V276.25M441.73 276.66V290.54M444.01 266.71V280.49M446.29 282.75V296.45M448.57 285.79V299.21M450.85 293.4V306.6M453.12 255.11V268.29M455.4 278.47V291.33M457.68 294.64V307.16M459.96 272.08V284.52M462.24 276.01V288.19M464.51 285.89V297.91M466.79 276.2V288M469.07 273.13V284.87M471.35 295.82V307.18M473.63 284.58V295.82M475.91 282.73V293.87M478.19 298.87V309.73M480.46 299.94V310.66M482.74 290.47V301.13M485.02 311.4V321.8M487.3 294.46V304.74M489.58 303.99V314.21M491.86 301.12V311.28M494.13 300.27V310.33M496.41 300.35V310.25M498.69 293.79V303.61M500.97 309.84V319.56M503.25 295.72V305.48M505.52 307.04V316.76M507.8 308.98V318.62M510.08 308.01V317.59M512.36 303.34V312.86M514.64 302.46V311.94M516.92 302.48V311.92M519.19 319.52V328.88M521.47 305.29V314.71M523.75 303.39V312.81M526.03 297.78V307.22M528.31 303.41V312.79M530.59 311.92V321.28M532.87 313.86V323.14M535.14 307.18V316.62M537.42 301.49V310.91M539.7 300.59V310.01M541.98 300.83V310.17M544.26 300.82V310.18M546.53 301.7V311.1M548.81 290.39V299.81M551.09 301.69V311.11M553.37 307.36V316.84M555.65 305.43V314.97M557.93 286.5V296.1M560.2 291.28V300.92M562.48 292.16V301.84M564.76 296.81V306.59M567.04 300.56V310.44M569.32 303.32V313.28M571.6 305.19V315.21M573.88 305.17V315.23M576.15 301.34V311.46M578.43 297.56V307.84M580.71 289.92V300.28M582.99 300.27V310.73M585.27 296.37V307.03M587.54 308.59V319.41M589.82 295.34V306.26M592.1 295.26V306.34M594.38 308.36V319.64M596.66 299.68V311.32M598.94 292.06V303.94M601.22 297.62V309.58M603.49 297.57V309.63M605.77 292.77V305.03M608.05 270.61V283.39M610.33 280.56V293.44M612.61 275.69V288.91M614.88 266V279.6M617.16 266.78V280.62M619.44 270.48V284.52M621.72 265.54V279.86M624 265.4V280M626.28 265.26V280.14M628.55 268.91V284.09M630.83 251.73V267.27M633.11 254.64V270.16M635.39 249.81V265.39M637.67 271.59V287.01M639.95 270.62V286.18M642.22 267.8V283.4M644.5 263.23V278.37M646.78 247.24V262.36M649.06 247.33V262.27M651.34 256.74V271.66M653.62 278.53V293.27M655.89 267.32V281.88M658.17 278.74V293.06M660.45 242.09V256.31M662.73 258.18V272.22M665.01 259.14V273.06M667.29 270.59V284.41M669.56 269.66V283.34M671.84 264.98V278.62M674.12 244.14V257.86M676.4 254.44V268.06" stroke="#000" stroke-width="1.2" fill="none"/>
<g fill="#000">
<circle cx="403" cy="288" r="1.7"/>
<circle cx="405.28" cy="285.8" r="1.7"/>
<circle cx="407.56" cy="283" r="1.7"/>
<circle cx="409.83" cy="307.5" r="1.7"/>
<circle cx="412.11" cy="277.9" r="1.7"/>
<circle cx="414.39" cy="282.1" r="1.7"/>
<circle cx="416.67" cy="294.3" r="1.7"/>
<circle cx="418.95" cy="290.6" r="1.7"/>
<circle cx="421.23" cy="305.7" r="1.7"/>
<circle cx="423.5" cy="276" r="1.7"/>
<circle cx="425.78" cy="291.9" r="1.7"/>
<circle cx="428.06" cy="304.7" r="1.7"/>
<circle cx="430.34" cy="282.5" r="1.7"/>
<circle cx="432.62" cy="296.2" r="1.7"/>
<circle cx="434.9" cy="278.3" r="1.7"/>
<circle cx="437.18" cy="299.4" r="1.7"/>
<circle cx="439.45" cy="269.2" r="1.7"/>
<circle cx="441.73" cy="283.6" r="1.7"/>
<circle cx="444.01" cy="273.6" r="1.7"/>
<circle cx="446.29" cy="289.6" r="1.7"/>
<circle cx="448.57" cy="292.5" r="1.7"/>
<circle cx="450.85" cy="300" r="1.7"/>
<circle cx="453.12" cy="261.7" r="1.7"/>
<circle cx="455.4" cy="284.9" r="1.7"/>
<circle cx="457.68" cy="300.9" r="1.7"/>
<circle cx="459.96" cy="278.3" r="1.7"/>
<circle cx="462.24" cy="282.1" r="1.7"/>
<circle cx="464.51" cy="291.9" r="1.7"/>
<circle cx="466.79" cy="282.1" r="1.7"/>
<circle cx="469.07" cy="279" r="1.7"/>
<circle cx="471.35" cy="301.5" r="1.7"/>
<circle cx="473.63" cy="290.2" r="1.7"/>
<circle cx="475.91" cy="288.3" r="1.7"/>
<circle cx="478.19" cy="304.3" r="1.7"/>
<circle cx="480.46" cy="305.3" r="1.7"/>
<circle cx="482.74" cy="295.8" r="1.7"/>
<circle cx="485.02" cy="316.6" r="1.7"/>
<circle cx="487.3" cy="299.6" r="1.7"/>
<circle cx="489.58" cy="309.1" r="1.7"/>
<circle cx="491.86" cy="306.2" r="1.7"/>
<circle cx="494.13" cy="305.3" r="1.7"/>
<circle cx="496.41" cy="305.3" r="1.7"/>
<circle cx="498.69" cy="298.7" r="1.7"/>
<circle cx="500.97" cy="314.7" r="1.7"/>
<circle cx="503.25" cy="300.6" r="1.7"/>
<circle cx="505.52" cy="311.9" r="1.7"/>
<circle cx="507.8" cy="313.8" r="1.7"/>
<circle cx="510.08" cy="312.8" r="1.7"/>
<circle cx="512.36" cy="308.1" r="1.7"/>
<circle cx="514.64" cy="307.2" r="1.7"/>
<circle cx="516.92" cy="307.2" r="1.7"/>
<circle cx="519.19" cy="324.2" r="1.7"/>
<circle cx="521.47" cy="310" r="1.7"/>
<circle cx="523.75" cy="308.1" r="1.7"/>
<circle cx="526.03" cy="302.5" r="1.7"/>
<circle cx="528.31" cy="308.1" r="1.7"/>
<circle cx="530.59" cy="316.6" r="1.7"/>
<circle cx="532.87" cy="318.5" r="1.7"/>
<circle cx="535.14" cy="311.9" r="1.7"/>
<circle cx="537.42" cy="306.2" r="1.7"/>
<circle cx="539.7" cy="305.3" r="1.7"/>
<circle cx="541.98" cy="305.5" r="1.7"/>
<circle cx="544.26" cy="305.5" r="1.7"/>
<circle cx="546.53" cy="306.4" r="1.7"/>
<circle cx="548.81" cy="295.1" r="1.7"/>
<circle cx="551.09" cy="306.4" r="1.7"/>
<circle cx="553.37" cy="312.1" r="1.7"/>
<circle cx="555.65" cy="310.2" r="1.7"/>
<circle cx="557.93" cy="291.3" r="1.7"/>
<circle cx="560.2" cy="296.1" r="1.7"/>
<circle cx="562.48" cy="297" r="1.7"/>
<circle cx="564.76" cy="301.7" r="1.7"/>
<circle cx="567.04" cy="305.5" r="1.7"/>
<circle cx="569.32" cy="308.3" r="1.7"/>
<circle cx="571.6" cy="310.2" r="1.7"/>
<circle cx="573.88" cy="310.2" r="1.7"/>
<circle cx="576.15" cy="306.4" r="1.7"/>
<circle cx="578.43" cy="302.7" r="1.7"/>
<circle cx="580.71" cy="295.1" r="1.7"/>
<circle cx="582.99" cy="305.5" r="1.7"/>
<circle cx="585.27" cy="301.7" r="1.7"/>
<circle cx="587.54" cy="314" r="1.7"/>
<circle cx="589.82" cy="300.8" r="1.7"/>
<circle cx="592.1" cy="300.8" r="1.7"/>
<circle cx="594.38" cy="314" r="1.7"/>
<circle cx="596.66" cy="305.5" r="1.7"/>
<circle cx="598.94" cy="298" r="1.7"/>
<circle cx="601.22" cy="303.6" r="1.7"/>
<circle cx="603.49" cy="303.6" r="1.7"/>
<circle cx="605.77" cy="298.9" r="1.7"/>
<circle cx="608.05" cy="277" r="1.7"/>
<circle cx="610.33" cy="287" r="1.7"/>
<circle cx="612.61" cy="282.3" r="1.7"/>
<circle cx="614.88" cy="272.8" r="1.7"/>
<circle cx="617.16" cy="273.7" r="1.7"/>
<circle cx="619.44" cy="277.5" r="1.7"/>
<circle cx="621.72" cy="272.7" r="1.7"/>
<circle cx="624" cy="272.7" r="1.7"/>
<circle cx="626.28" cy="272.7" r="1.7"/>
<circle cx="628.55" cy="276.5" r="1.7"/>
<circle cx="630.83" cy="259.5" r="1.7"/>
<circle cx="633.11" cy="262.4" r="1.7"/>
<circle cx="635.39" cy="257.6" r="1.7"/>
<circle cx="637.67" cy="279.3" r="1.7"/>
<circle cx="639.95" cy="278.4" r="1.7"/>
<circle cx="642.22" cy="275.6" r="1.7"/>
<circle cx="644.5" cy="270.8" r="1.7"/>
<circle cx="646.78" cy="254.8" r="1.7"/>
<circle cx="649.06" cy="254.8" r="1.7"/>
<circle cx="651.34" cy="264.2" r="1.7"/>
<circle cx="653.62" cy="285.9" r="1.7"/>
<circle cx="655.89" cy="274.6" r="1.7"/>
<circle cx="658.17" cy="285.9" r="1.7"/>
<circle cx="660.45" cy="249.2" r="1.7"/>
<circle cx="662.73" cy="265.2" r="1.7"/>
<circle cx="665.01" cy="266.1" r="1.7"/>
<circle cx="667.29" cy="277.5" r="1.7"/>
<circle cx="669.56" cy="276.5" r="1.7"/>
<circle cx="671.84" cy="271.8" r="1.7"/>
<circle cx="674.12" cy="251" r="1.7"/>
<circle cx="676.4" cy="261.25" r="1.7"/>
</g>
</g>
<path d="M58 0.5H326V225.5H58Z" fill="none" stroke="#000" stroke-width="1.05"/>
<path d="M58 241.4H326V354H58Z" fill="none" stroke="#000" stroke-width="1.05"/>
<line x1="58" y1="225.5" x2="58" y2="228.1" stroke="#000" stroke-width="0.85"/>
<line x1="102.67" y1="225.5" x2="102.67" y2="228.1" stroke="#000" stroke-width="0.85"/>
<line x1="147.33" y1="225.5" x2="147.33" y2="228.1" stroke="#000" stroke-width="0.85"/>
<line x1="192" y1="225.5" x2="192" y2="228.1" stroke="#000" stroke-width="0.85"/>
<line x1="236.67" y1="225.5" x2="236.67" y2="228.1" stroke="#000" stroke-width="0.85"/>
<line x1="281.33" y1="225.5" x2="281.33" y2="228.1" stroke="#000" stroke-width="0.85"/>
<line x1="326" y1="225.5" x2="326" y2="228.1" stroke="#000" stroke-width="0.85"/>
<line x1="58" y1="354" x2="58" y2="356.6" stroke="#000" stroke-width="0.85"/>
<text x="58" y="366.7" font-size="11" text-anchor="middle" font-family="Liberation Sans" textLength="6.43" lengthAdjust="spacingAndGlyphs" stroke="#000" stroke-width="0.3">0</text>
<line x1="102.67" y1="354" x2="102.67" y2="356.6" stroke="#000" stroke-width="0.85"/>
<text x="102.67" y="366.7" font-size="11" text-anchor="middle" font-family="Liberation Sans" textLength="12.86" lengthAdjust="spacingAndGlyphs" stroke="#000" stroke-width="0.3">20</text>
<line x1="147.33" y1="354" x2="147.33" y2="356.6" stroke="#000" stroke-width="0.85"/>
<text x="147.33" y="366.7" font-size="11" text-anchor="middle" font-family="Liberation Sans" textLength="12.86" lengthAdjust="spacingAndGlyphs" stroke="#000" stroke-width="0.3">40</text>
<line x1="192" y1="354" x2="192" y2="356.6" stroke="#000" stroke-width="0.85"/>
<text x="192" y="366.7" font-size="11" text-anchor="middle" font-family="Liberation Sans" textLength="12.86" lengthAdjust="spacingAndGlyphs" stroke="#000" stroke-width="0.3">60</text>
<line x1="236.67" y1="354" x2="236.67" y2="356.6" stroke="#000" stroke-width="0.85"/>
<text x="236.67" y="366.7" font-size="11" text-anchor="middle" font-family="Liberation Sans" textLength="12.86" lengthAdjust="spacingAndGlyphs" stroke="#000" stroke-width="0.3">80</text>
<line x1="281.33" y1="354" x2="281.33" y2="356.6" stroke="#000" stroke-width="0.85"/>
<text x="281.33" y="366.7" font-size="11" text-anchor="middle" font-family="Liberation Sans" textLength="19.29" lengthAdjust="spacingAndGlyphs" stroke="#000" stroke-width="0.3">100</text>
<line x1="326" y1="354" x2="326" y2="356.6" stroke="#000" stroke-width="0.85"/>
<text x="326" y="366.7" font-size="11" text-anchor="middle" font-family="Liberation Sans" textLength="19.29" lengthAdjust="spacingAndGlyphs" stroke="#000" stroke-width="0.3">120</text>
<path d="M403 0.5H676.4V228H403Z" fill="none" stroke="#000" stroke-width="1.05"/>
<path d="M403 240H676.4V354H403Z" fill="none" stroke="#000" stroke-width="1.05"/>
<line x1="403" y1="228" x2="403" y2="230.6" stroke="#000" stroke-width="0.85"/>
<line x1="448.57" y1="228" x2="448.57" y2="230.6" stroke="#000" stroke-width="0.85"/>
<line x1="494.13" y1="228" x2="494.13" y2="230.6" stroke="#000" stroke-width="0.85"/>
<line x1="539.7" y1="228" x2="539.7" y2="230.6" stroke="#000" stroke-width="0.85"/>
<line x1="585.27" y1="228" x2="585.27" y2="230.6" stroke="#000" stroke-width="0.85"/>
<line x1="630.83" y1="228" x2="630.83" y2="230.6" stroke="#000" stroke-width="0.85"/>
<line x1="676.4" y1="228" x2="676.4" y2="230.6" stroke="#000" stroke-width="0.85"/>
<line x1="403" y1="354" x2="403" y2="356.6" stroke="#000" stroke-width="0.85"/>
<text x="403" y="366.7" font-size="11" text-anchor="middle" font-family="Liberation Sans" textLength="6.43" lengthAdjust="spacingAndGlyphs" stroke="#000" stroke-width="0.3">0</text>
<line x1="448.57" y1="354" x2="448.57" y2="356.6" stroke="#000" stroke-width="0.85"/>
<text x="448.57" y="366.7" font-size="11" text-anchor="middle" font-family="Liberation Sans" textLength="12.86" lengthAdjust="spacingAndGlyphs" stroke="#000" stroke-width="0.3">20</text>
<line x1="494.13" y1="354" x2="494.13" y2="356.6" stroke="#000" stroke-width="0.85"/>
<text x="494.13" y="366.7" font-size="11" text-anchor="middle" font-family="Liberation Sans" textLength="12.86" lengthAdjust="spacingAndGlyphs" stroke="#000" stroke-width="0.3">40</text>
<line x1="539.7" y1="354" x2="539.7" y2="356.6" stroke="#000" stroke-width="0.85"/>
<text x="539.7" y="366.7" font-size="11" text-anchor="middle" font-family="Liberation Sans" textLength="12.86" lengthAdjust="spacingAndGlyphs" stroke="#000" stroke-width="0.3">60</text>
<line x1="585.27" y1="354" x2="585.27" y2="356.6" stroke="#000" stroke-width="0.85"/>
<text x="585.27" y="366.7" font-size="11" text-anchor="middle" font-family="Liberation Sans" textLength="12.86" lengthAdjust="spacingAndGlyphs" stroke="#000" stroke-width="0.3">80</text>
<line x1="630.83" y1="354" x2="630.83" y2="356.6" stroke="#000" stroke-width="0.85"/>
<text x="630.83" y="366.7" font-size="11" text-anchor="middle" font-family="Liberation Sans" textLength="19.29" lengthAdjust="spacingAndGlyphs" stroke="#000" stroke-width="0.3">100</text>
<line x1="676.4" y1="354" x2="676.4" y2="356.6" stroke="#000" stroke-width="0.85"/>
<text x="676.4" y="366.7" font-size="11" text-anchor="middle" font-family="Liberation Sans" textLength="19.29" lengthAdjust="spacingAndGlyphs" stroke="#000" stroke-width="0.3">120</text>
<line x1="55.4" y1="20.4" x2="58" y2="20.4" stroke="#000" stroke-width="0.85"/>
<text x="53.6" y="24.8" font-size="11" text-anchor="end" font-family="Liberation Sans" textLength="32.15" lengthAdjust="spacingAndGlyphs" stroke="#000" stroke-width="0.3">80000</text>
<line x1="55.4" y1="53.42" x2="58" y2="53.42" stroke="#000" stroke-width="0.85"/>
<text x="53.6" y="57.82" font-size="11" text-anchor="end" font-family="Liberation Sans" textLength="32.15" lengthAdjust="spacingAndGlyphs" stroke="#000" stroke-width="0.3">70000</text>
<line x1="55.4" y1="86.43" x2="58" y2="86.43" stroke="#000" stroke-width="0.85"/>
<text x="53.6" y="90.83" font-size="11" text-anchor="end" font-family="Liberation Sans" textLength="32.15" lengthAdjust="spacingAndGlyphs" stroke="#000" stroke-width="0.3">60000</text>
<line x1="55.4" y1="119.45" x2="58" y2="119.45" stroke="#000" stroke-width="0.85"/>
<text x="53.6" y="123.85" font-size="11" text-anchor="end" font-family="Liberation Sans" textLength="32.15" lengthAdjust="spacingAndGlyphs" stroke="#000" stroke-width="0.3">50000</text>
<line x1="55.4" y1="152.47" x2="58" y2="152.47" stroke="#000" stroke-width="0.85"/>
<text x="53.6" y="156.87" font-size="11" text-anchor="end" font-family="Liberation Sans" textLength="32.15" lengthAdjust="spacingAndGlyphs" stroke="#000" stroke-width="0.3">40000</text>
<line x1="55.4" y1="185.49" x2="58" y2="185.49" stroke="#000" stroke-width="0.85"/>
<text x="53.6" y="189.89" font-size="11" text-anchor="end" font-family="Liberation Sans" textLength="32.15" lengthAdjust="spacingAndGlyphs" stroke="#000" stroke-width="0.3">30000</text>
<line x1="55.4" y1="218.5" x2="58" y2="218.5" stroke="#000" stroke-width="0.85"/>
<text x="53.6" y="222.9" font-size="11" text-anchor="end" font-family="Liberation Sans" textLength="32.15" lengthAdjust="spacingAndGlyphs" stroke="#000" stroke-width="0.3">20000</text>
<line x1="55.4" y1="241.1" x2="58" y2="241.1" stroke="#000" stroke-width="0.85"/>
<text x="53.6" y="245.5" font-size="11" text-anchor="end" font-family="Liberation Sans" textLength="22.6" lengthAdjust="spacingAndGlyphs" stroke="#000" stroke-width="0.3">1.10</text>
<line x1="55.4" y1="269.25" x2="58" y2="269.25" stroke="#000" stroke-width="0.85"/>
<text x="53.6" y="273.65" font-size="11" text-anchor="end" font-family="Liberation Sans" textLength="22.6" lengthAdjust="spacingAndGlyphs" stroke="#000" stroke-width="0.3">1.05</text>
<line x1="55.4" y1="297.4" x2="58" y2="297.4" stroke="#000" stroke-width="0.85"/>
<text x="53.6" y="301.8" font-size="11" text-anchor="end" font-family="Liberation Sans" textLength="22.6" lengthAdjust="spacingAndGlyphs" stroke="#000" stroke-width="0.3">1.00</text>
<line x1="55.4" y1="325.55" x2="58" y2="325.55" stroke="#000" stroke-width="0.85"/>
<text x="53.6" y="329.95" font-size="11" text-anchor="end" font-family="Liberation Sans" textLength="22.6" lengthAdjust="spacingAndGlyphs" stroke="#000" stroke-width="0.3">0.95</text>
<line x1="55.4" y1="353.7" x2="58" y2="353.7" stroke="#000" stroke-width="0.85"/>
<text x="53.6" y="358.1" font-size="11" text-anchor="end" font-family="Liberation Sans" textLength="22.6" lengthAdjust="spacingAndGlyphs" stroke="#000" stroke-width="0.3">0.90</text>
<line x1="400.4" y1="14" x2="403" y2="14" stroke="#000" stroke-width="0.85"/>
<text x="398.6" y="18.4" font-size="11" text-anchor="end" font-family="Liberation Sans" textLength="32.15" lengthAdjust="spacingAndGlyphs" stroke="#000" stroke-width="0.3">12000</text>
<line x1="400.4" y1="40.01" x2="403" y2="40.01" stroke="#000" stroke-width="0.85"/>
<text x="398.6" y="44.41" font-size="11" text-anchor="end" font-family="Liberation Sans" textLength="32.15" lengthAdjust="spacingAndGlyphs" stroke="#000" stroke-width="0.3">11000</text>
<line x1="400.4" y1="66.02" x2="403" y2="66.02" stroke="#000" stroke-width="0.85"/>
<text x="398.6" y="70.42" font-size="11" text-anchor="end" font-family="Liberation Sans" textLength="32.15" lengthAdjust="spacingAndGlyphs" stroke="#000" stroke-width="0.3">10000</text>
<line x1="400.4" y1="92.03" x2="403" y2="92.03" stroke="#000" stroke-width="0.85"/>
<text x="398.6" y="96.43" font-size="11" text-anchor="end" font-family="Liberation Sans" textLength="25.72" lengthAdjust="spacingAndGlyphs" stroke="#000" stroke-width="0.3">9000</text>
<line x1="400.4" y1="118.04" x2="403" y2="118.04" stroke="#000" stroke-width="0.85"/>
<text x="398.6" y="122.44" font-size="11" text-anchor="end" font-family="Liberation Sans" textLength="25.72" lengthAdjust="spacingAndGlyphs" stroke="#000" stroke-width="0.3">8000</text>
<line x1="400.4" y1="144.05" x2="403" y2="144.05" stroke="#000" stroke-width="0.85"/>
<text x="398.6" y="148.45" font-size="11" text-anchor="end" font-family="Liberation Sans" textLength="25.72" lengthAdjust="spacingAndGlyphs" stroke="#000" stroke-width="0.3">7000</text>
<line x1="400.4" y1="170.06" x2="403" y2="170.06" stroke="#000" stroke-width="0.85"/>
<text x="398.6" y="174.46" font-size="11" text-anchor="end" font-family="Liberation Sans" textLength="25.72" lengthAdjust="spacingAndGlyphs" stroke="#000" stroke-width="0.3">6000</text>
<line x1="400.4" y1="196.07" x2="403" y2="196.07" stroke="#000" stroke-width="0.85"/>
<text x="398.6" y="200.47" font-size="11" text-anchor="end" font-family="Liberation Sans" textLength="25.72" lengthAdjust="spacingAndGlyphs" stroke="#000" stroke-width="0.3">5000</text>
<line x1="400.4" y1="222.08" x2="403" y2="222.08" stroke="#000" stroke-width="0.85"/>
<text x="398.6" y="226.48" font-size="11" text-anchor="end" font-family="Liberation Sans" textLength="25.72" lengthAdjust="spacingAndGlyphs" stroke="#000" stroke-width="0.3">4000</text>
<line x1="400.4" y1="252.2" x2="403" y2="252.2" stroke="#000" stroke-width="0.85"/>
<text x="398.6" y="256.6" font-size="11" text-anchor="end" font-family="Liberation Sans" textLength="16.17" lengthAdjust="spacingAndGlyphs" stroke="#000" stroke-width="0.3">1.1</text>
<line x1="400.4" y1="296.8" x2="403" y2="296.8" stroke="#000" stroke-width="0.85"/>
<text x="398.6" y="301.2" font-size="11" text-anchor="end" font-family="Liberation Sans" textLength="16.17" lengthAdjust="spacingAndGlyphs" stroke="#000" stroke-width="0.3">1.0</text>
<line x1="400.4" y1="341.5" x2="403" y2="341.5" stroke="#000" stroke-width="0.85"/>
<text x="398.6" y="345.9" font-size="11" text-anchor="end" font-family="Liberation Sans" textLength="16.17" lengthAdjust="spacingAndGlyphs" stroke="#000" stroke-width="0.3">0.9</text>
<text transform="translate(15.6 112.9) rotate(-90)" x="0" y="0" font-size="14" text-anchor="middle" font-family="Liberation Sans" textLength="46.2" lengthAdjust="spacingAndGlyphs" stroke="#000" stroke-width="0.3">Counts</text>
<text transform="translate(360.9 113.9) rotate(-90)" x="0" y="0" font-size="14" text-anchor="middle" font-family="Liberation Sans" textLength="46.2" lengthAdjust="spacingAndGlyphs" stroke="#000" stroke-width="0.3">Counts</text>
<text transform="translate(10.6 299.3) rotate(-90)" x="0" y="0" font-size="14" text-anchor="middle" font-family="Liberation Sans" textLength="33.8" lengthAdjust="spacingAndGlyphs" stroke="#000" stroke-width="0.3">Ratio</text>
<text transform="translate(26 294.9) rotate(-90)" x="0" y="0" font-size="14" text-anchor="middle" font-family="Liberation Sans" textLength="69" lengthAdjust="spacingAndGlyphs" stroke="#000" stroke-width="0.3">sim/SPECT</text>
<text transform="translate(361.8 299.1) rotate(-90)" x="0" y="0" font-size="14" text-anchor="middle" font-family="Liberation Sans" textLength="33.8" lengthAdjust="spacingAndGlyphs" stroke="#000" stroke-width="0.3">Ratio</text>
<text transform="translate(377.2 294.4) rotate(-90)" x="0" y="0" font-size="14" text-anchor="middle" font-family="Liberation Sans" textLength="69" lengthAdjust="spacingAndGlyphs" stroke="#000" stroke-width="0.3">sim/SPECT</text>
<text x="192.05" y="381.8" font-size="14" text-anchor="middle" font-family="Liberation Sans" textLength="65.8" lengthAdjust="spacingAndGlyphs" stroke="#000" stroke-width="0.3">Projection</text>
<text x="539.6" y="381.8" font-size="14" text-anchor="middle" font-family="Liberation Sans" textLength="65.8" lengthAdjust="spacingAndGlyphs" stroke="#000" stroke-width="0.3">Projection</text>
<rect x="214.7" y="6.5" width="105.1" height="38.6" rx="2.2" fill="#fff" fill-opacity="0.8" stroke="#cccccc" stroke-opacity="0.8" stroke-width="0.85"/>
<line x1="231.6" y1="10.4" x2="231.6" y2="22.3" stroke="#1f77b4" stroke-width="1.05"/>
<circle cx="231.6" cy="16.0" r="2.1" fill="#1f77b4"/>
<path d="M231.6 27.9V40" stroke="#ff7f0e" stroke-width="1.05" fill="none"/>
<path d="M229.5 31.8L233.7 36M229.5 36L233.7 31.8" stroke="#ff7f0e" stroke-width="1.3" fill="none"/>
<text x="245.5" y="20.3" font-size="12" text-anchor="start" font-family="Liberation Sans" textLength="69.3" lengthAdjust="spacingAndGlyphs" stroke="#000" stroke-width="0.3">Experiment</text>
<text x="245.5" y="38" font-size="12" text-anchor="start" font-family="Liberation Sans" textLength="63.8" lengthAdjust="spacingAndGlyphs" stroke="#000" stroke-width="0.3">Simulation</text>
<rect x="565.1" y="6.5" width="105.1" height="38.6" rx="2.2" fill="#fff" fill-opacity="0.8" stroke="#cccccc" stroke-opacity="0.8" stroke-width="0.85"/>
<line x1="582" y1="10.4" x2="582" y2="22.3" stroke="#1f77b4" stroke-width="1.05"/>
<circle cx="582" cy="16.0" r="2.1" fill="#1f77b4"/>
<path d="M582 27.9V40" stroke="#ff7f0e" stroke-width="1.05" fill="none"/>
<path d="M579.9 31.8L584.1 36M579.9 36L584.1 31.8" stroke="#ff7f0e" stroke-width="1.3" fill="none"/>
<text x="595.2" y="20.3" font-size="12" text-anchor="start" font-family="Liberation Sans" textLength="69.3" lengthAdjust="spacingAndGlyphs" stroke="#000" stroke-width="0.3">Experiment</text>
<text x="595.2" y="38" font-size="12" text-anchor="start" font-family="Liberation Sans" textLength="63.8" lengthAdjust="spacingAndGlyphs" stroke="#000" stroke-width="0.3">Simulation</text>
<text transform="translate(160 418.56) scale(0.8389 1)" x="-0.98" y="0" font-size="22.28" font-family="Liberation Serif" stroke="#000" stroke-opacity="0" stroke-width="0.1">(</text>
<text transform="translate(167.1 418.5) scale(1.2126 1)" x="-0.7" y="0" font-size="20.04" font-family="Liberation Serif" stroke="#000" stroke-opacity="0" stroke-width="0.1">a</text>
<text transform="translate(177.8 418.56) scale(0.8389 1)" x="-0.72" y="0" font-size="22.28" font-family="Liberation Serif" stroke="#000" stroke-opacity="0" stroke-width="0.1">)</text>
<text transform="translate(192.5 418.5) scale(1.0746 1)" x="-0.58" y="0" font-size="20.01" font-family="Liberation Serif" stroke="#000" stroke-opacity="0" stroke-width="0.1">EM</text>
<text transform="translate(513 418.56) scale(0.8389 1)" x="-0.98" y="0" font-size="22.28" font-family="Liberation Serif" stroke="#000" stroke-opacity="0" stroke-width="0.1">(</text>
<text transform="translate(520.3 418.51) scale(1.0520 1)" x="-0" y="0" font-size="19.76" font-family="Liberation Serif" stroke="#000" stroke-opacity="0" stroke-width="0.1">b</text>
<text transform="translate(531.4 418.56) scale(0.7865 1)" x="-0.72" y="0" font-size="22.28" font-family="Liberation Serif" stroke="#000" stroke-opacity="0" stroke-width="0.1">)</text>
<text transform="translate(546.4 418.7) scale(1.1037 1)" x="-1.35" y="0" font-size="20.24" font-family="Liberation Serif" stroke="#000" stroke-opacity="0" stroke-width="0.1">SC</text>
</svg>
</body></html>
